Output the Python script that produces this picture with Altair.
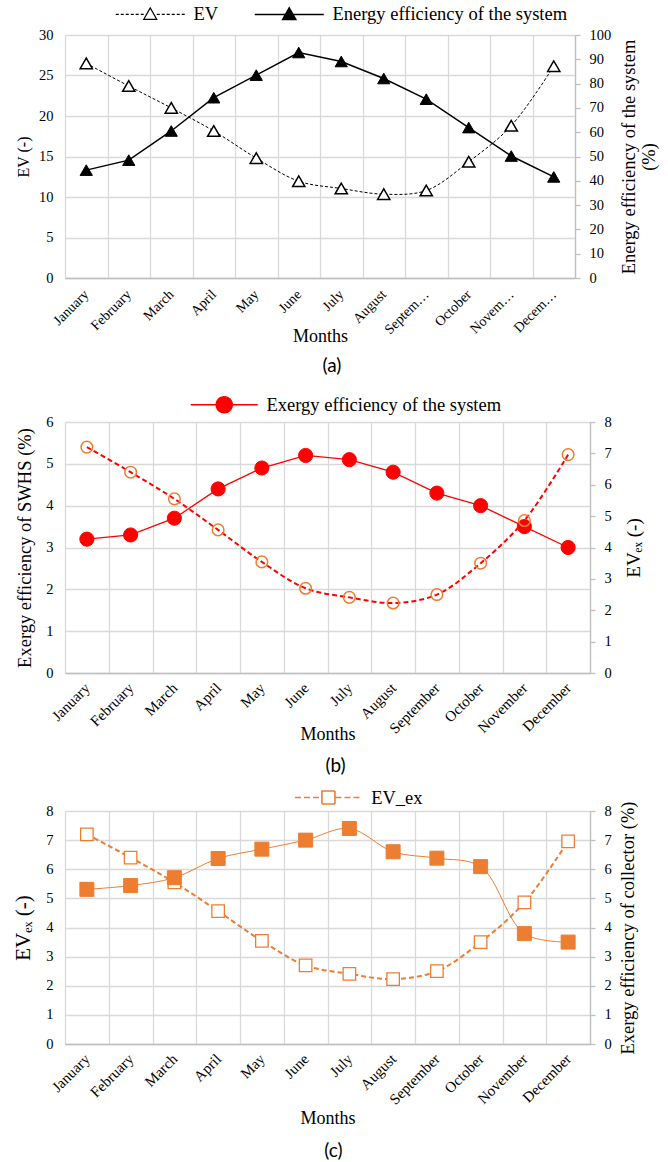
import altair as alt
import pandas as pd

months = ["January", "February", "March", "April", "May", "June", "July",
          "August", "September", "October", "November", "December"]

# (a) energy analysis
ev = [26.5, 23.7, 21.0, 18.15, 14.8, 11.95, 11.05, 10.35, 10.8, 14.35, 18.8, 26.15]
energy_eff = [44.4, 48.5, 60.5, 74.2, 83.5, 92.8, 89.1, 82.1, 73.6, 61.9, 50.2, 41.6]

# (b) exergy analysis of the whole system
exergy_sys = [3.2, 3.3, 3.7, 4.4, 4.9, 5.2, 5.1, 4.8, 4.3, 4.0, 3.5, 3.0]
ev_ex = [7.2, 6.4, 5.55, 4.56, 3.54, 2.7, 2.41, 2.23, 2.5, 3.5, 4.86, 6.96]

# (c) exergy efficiency of the collector
collector_eff = [5.31, 5.44, 5.71, 6.37, 6.69, 7.0, 7.4, 6.6, 6.38, 6.09, 3.79, 3.5]

SERIF = "Liberation Serif"
GRID = "#d9d9d9"
AXIS_GRAY = "#bfbfbf"
ORANGE = "#ED7D31"
RED = "#FF0000"
TITLE_SIZE = 18.5


def frame(series):
    rows = []
    for name, vals in series.items():
        for m, v in zip(months, vals):
            rows.append({"month": m, "series": name, "value": v})
    return pd.DataFrame(rows)


# ---- legend glyphs: a short line with the series marker in its middle ----
def dashed(x0, x1, on, off):
    out, x = [], x0
    while x < x1 - 1e-9:
        e = min(x + on, x1)
        out.append(f"M{x:.2f},0H{e:.2f}")
        x = e + off
    return "".join(out)


TRI = "M0,-6.5L6.5,5L-6.5,5Z"
CIRC = "M8,0A8,8,0,1,1,-8,0A8,8,0,1,1,8,0Z"
SQR = "M-6.5,-6.5H6.5V6.5H-6.5Z"
PATH_EV = dashed(-34.5, -6.5, 3, 2) + dashed(6.5, 34.5, 3, 2) + TRI
PATH_EN = "M-34.5,0H34.5" + TRI
PATH_EXS = "M-33.5,0H33.5" + CIRC
PATH_EVX = dashed(-33.5, -7, 6, 3) + dashed(7, 33.5, 6, 3) + SQR


def legend(x, y, half, label_offset, shape, fill, stroke_width, col_pad=28):
    return alt.Legend(
        title=None, orient="none", legendX=x, legendY=y, direction="horizontal",
        padding=0, symbolSize=4, symbolType=shape, symbolOffset=half - 1,
        symbolFillColor=fill, symbolStrokeWidth=stroke_width, symbolDash=[1, 0],
        labelOffset=label_offset, labelFont=SERIF, labelFontSize=18.5, labelLimit=400,
        labelColor="black", columnPadding=col_pad,
    )


def month_x(label_size, label_limit, label_pad, title_y):
    return alt.X(
        "month:N", sort=months, bandPosition=0.5,
        scale=alt.Scale(type="band", domain=months, paddingInner=0, paddingOuter=0),
        axis=alt.Axis(
            title="Months", tickBand="extent", grid=True, gridColor=GRID, gridWidth=1.3,
            ticks=False, domain=True, domainColor=AXIS_GRAY, domainWidth=1.5,
            labelAngle=315, labelAlign="right", labelBaseline="middle",
            labelFont=SERIF, labelFontSize=label_size, labelColor="black",
            labelLimit=label_limit, labelPadding=label_pad, labelOverlap=False,
            titleFont=SERIF, titleFontSize=18, titleFontWeight="normal",
            titleColor="black", titleY=title_y, titleBaseline="middle",
        ),
    )


def y_axis(side, ticks_at, title, title_pad, title_size=TITLE_SIZE, line_height=None):
    common = dict(values=ticks_at, title=title, labelFont=SERIF, labelFontSize=14.5,
                  labelColor="black", titleFont=SERIF, titleFontSize=title_size,
                  titleFontWeight="normal", titleColor="black", titlePadding=title_pad)
    if line_height is not None:
        common["titleLineHeight"] = line_height
    if side == "left":
        return alt.Axis(orient="left", grid=True, gridColor=GRID, gridWidth=1.3,
                        domain=False, ticks=False, labelPadding=12, **common)
    return alt.Axis(orient="right", grid=False, domain=True, domainColor=AXIS_GRAY,
                    domainWidth=1.3, ticks=True, tickColor=AXIS_GRAY, tickSize=5,
                    tickWidth=1.3, labelPadding=9, titleAngle=270, titleBaseline="top",
                    **common)


def y_enc(top, axis):
    return alt.Y("value:Q", scale=alt.Scale(domain=[0, top], nice=False), axis=axis)


def caption(text, offset, dx):
    return alt.Title(text, orient="bottom", font="Lato", fontSize=19, fontWeight="normal",
                     color="black", offset=offset, dx=dx)


# ---------------- (a) ----------------
df_a = frame({"EV": ev, "Energy efficiency of the system": energy_eff})
col_a = alt.Scale(domain=["EV", "Energy efficiency of the system"], range=["black", "black"])
is_ev = "datum.value === 'EV'"
leg_a = legend(
    42.5, -30, 34.5, 34,
    {"expr": f"{is_ev} ? '{PATH_EV}' : '{PATH_EN}'"},
    {"expr": f"{is_ev} ? 'white' : 'black'"},
    {"expr": f"{is_ev} ? 1.2 : 1.5"},
)
xa = month_x(14, 57, 14, 58)
base_a = alt.Chart(df_a)
ax_la = y_axis("left", list(range(0, 31, 5)), "EV (-)", 7, title_size=16)
left_a = alt.layer(
    base_a.mark_line(strokeWidth=1, strokeDash=[3, 2], interpolate="catmull-rom")
    .encode(x=xa, y=y_enc(30, ax_la),
            color=alt.Color("series:N", scale=col_a, legend=leg_a))
    .transform_filter(alt.datum.series == "EV"),
    base_a.mark_point(shape="triangle-up", size=150, filled=True, fill="white",
                      stroke="black", strokeWidth=1.5, opacity=1)
    .encode(x=xa, y=y_enc(30, ax_la))
    .transform_filter(alt.datum.series == "EV"),
)
ax_ra = y_axis("right", list(range(0, 101, 10)),
               ["Energy efficiency of the system", "(%)"], -11, line_height=20)
right_a = alt.layer(
    base_a.mark_line(strokeWidth=1.5)
    .encode(x=xa, y=y_enc(100, ax_ra),
            color=alt.Color("series:N", scale=col_a, legend=leg_a))
    .transform_filter(alt.datum.series == "Energy efficiency of the system"),
    base_a.mark_point(shape="triangle-up", size=150, filled=True, fill="black",
                      stroke="black", strokeWidth=1, opacity=1)
    .encode(x=xa, y=y_enc(100, ax_ra))
    .transform_filter(alt.datum.series == "Energy efficiency of the system"),
)
panel_a = alt.layer(left_a, right_a).resolve_scale(y="independent").properties(
    width=510, height=243, title=caption("(a)", 12, 12))

# ---------------- (b) ----------------
df_b = frame({"Exergy efficiency of the system": exergy_sys, "EV_ex": ev_ex})
col_b = alt.Scale(domain=["Exergy efficiency of the system"], range=[RED])
leg_b = legend(117.5, -26.5, 33.5, 33, PATH_EXS, RED, 1.5)
xb = month_x(15, 200, 12, 61)
base_b = alt.Chart(df_b)
ax_lb = y_axis("left", list(range(0, 7)), "Exergy efficiency of SWHS (%)", 11.5)
left_b = alt.layer(
    base_b.mark_line(strokeWidth=1.3)
    .encode(x=xb, y=y_enc(6, ax_lb),
            color=alt.Color("series:N", scale=col_b, legend=leg_b))
    .transform_filter(alt.datum.series == "Exergy efficiency of the system"),
    base_b.mark_point(shape="circle", size=200, filled=True, fill=RED, stroke=RED,
                      strokeWidth=1, opacity=1)
    .encode(x=xb, y=y_enc(6, ax_lb))
    .transform_filter(alt.datum.series == "Exergy efficiency of the system"),
)
ax_rb = y_axis("right", list(range(0, 9)), "EVₑₓ (-)", 13, title_size=19)
right_b = alt.layer(
    base_b.mark_line(strokeWidth=2, strokeDash=[5, 3], color=RED, interpolate="catmull-rom")
    .encode(x=xb, y=y_enc(8, ax_rb))
    .transform_filter(alt.datum.series == "EV_ex"),
    base_b.mark_point(shape="circle", size=135, filled=True, fill="white", fillOpacity=0,
                      stroke=ORANGE, strokeWidth=1.5, opacity=1)
    .encode(x=xb, y=y_enc(8, ax_rb))
    .transform_filter(alt.datum.series == "EV_ex"),
)
panel_b = alt.layer(left_b, right_b).resolve_scale(y="independent").properties(
    width=525, height=251, title=caption("(b)", 14, 8))

# ---------------- (c) ----------------
df_c = frame({"EV_ex": ev_ex, "Exergy efficiency of collector": collector_eff})
col_c = alt.Scale(domain=["EV_ex"], range=[ORANGE])
leg_c = legend(221.7, -22.7, 33.5, 33.5, PATH_EVX, "white", 1.6)
xc = month_x(15, 200, 12, 74)
base_c = alt.Chart(df_c)
ax_lc = y_axis("left", list(range(0, 9)), "EVₑₓ (-)", 12.5, title_size=21)
left_c = alt.layer(
    base_c.mark_line(strokeWidth=2, strokeDash=[5, 3], interpolate="catmull-rom")
    .encode(x=xc, y=y_enc(8, ax_lc),
            color=alt.Color("series:N", scale=col_c, legend=leg_c))
    .transform_filter(alt.datum.series == "EV_ex"),
    base_c.mark_point(shape="square", size=156, filled=True, fill="white",
                      stroke=ORANGE, strokeWidth=1.3, opacity=1)
    .encode(x=xc, y=y_enc(8, ax_lc))
    .transform_filter(alt.datum.series == "EV_ex"),
)
ax_rc = y_axis("right", list(range(0, 9)), "Exergy efficiency of collector (%)", 7)
right_c = alt.layer(
    base_c.mark_line(strokeWidth=1, color=ORANGE, interpolate="catmull-rom")
    .encode(x=xc, y=y_enc(8, ax_rc))
    .transform_filter(alt.datum.series == "Exergy efficiency of collector"),
    base_c.mark_point(shape="square", size=196, filled=True, fill=ORANGE, stroke=ORANGE,
                      strokeWidth=1, opacity=1)
    .encode(x=xc, y=y_enc(8, ax_rc))
    .transform_filter(alt.datum.series == "Exergy efficiency of collector"),
)
panel_c = alt.layer(left_c, right_c).resolve_scale(y="independent").properties(
    width=525, height=233, title=caption("(c)", 15, 6))

lower = alt.vconcat(panel_b, panel_c, spacing=12).resolve_scale(color="independent")
chart = (
    alt.vconcat(panel_a, lower, spacing=19)
    .resolve_scale(color="independent")
    .properties(padding={"left": 12, "top": 5, "right": 2, "bottom": 0})
    .configure_view(stroke=None)
)

chart.save("out.html", embed_options={"renderer": "svg", "actions": False})
